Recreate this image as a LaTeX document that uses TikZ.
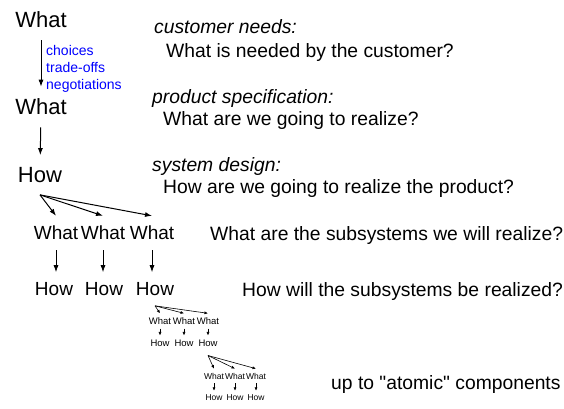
\documentclass[tikz,border=0pt]{standalone}
\usepackage{fontspec}
\setmainfont{Liberation Sans}[Ligatures=TeXOff]
\usetikzlibrary{arrows.meta}

\begin{document}
\begin{tikzpicture}[x=1pt,y=-1pt,>={Latex[length=7pt,width=5pt]},
  big/.style={font=\fontsize{22}{26}\selectfont, inner ysep=12pt, inner xsep=0pt},
  mid/.style={font=\fontsize{19}{23}\selectfont, inner ysep=10pt, inner xsep=0pt},
  small/.style={font=\fontsize{9.5}{11}\selectfont, inner ysep=4pt, inner xsep=0pt},
  smaller/.style={font=\fontsize{8.5}{10}\selectfont, inner ysep=4pt, inner xsep=0pt},
  note/.style={font=\fontsize{19.3}{23}\selectfont, anchor=base west, inner sep=0pt},
  task/.style={note, font=\fontsize{19.3}{23}\selectfont\itshape},
  remark/.style={font=\fontsize{14}{17}\selectfont, text=blue, anchor=base west, inner sep=0pt},
  tinyarrow/.style={-{Latex[length=3.5pt,width=3pt]}, line width=0.6pt}]
\useasboundingbox (0,0) rectangle (564,408);

% top of the chain
\node[big](W0) at (41,20) {What};
\node[big](W1) at (41,107) {What};
\node[big](H1) at (40,175) {How};

\node[remark](choices) at (46,55) {choices};
\node[remark](tradeoffs) at (46,72) {trade-offs};
\node[remark](negot) at (46,89) {negotiations};

\draw[->, line width=1pt] (W0) -- (W1);
\draw[->, line width=1pt] (W1) -- (H1);

% subsystems
\node[mid](M1) at (56,233) {What};
\node[mid](M2) at (103,233) {What};
\node[mid](M3) at (152,233) {What};
\node[mid](N1) at (54,289) {How};
\node[mid](N2) at (104,289) {How};
\node[mid](N3) at (155,289) {How};

\draw[->, line width=1pt] (H1.south) -- (M1.north);
\draw[->, line width=1pt] (H1.south) -- (M2.north);
\draw[->, line width=1pt] (H1.south) -- (M3.north);
\draw[->, line width=0.8pt] (M1) -- (M1 |- N1.north);
\draw[->, line width=0.8pt] (M2) -- (M2 |- N2.north);
\draw[->, line width=0.8pt] (M3) -- (M3 |- N3.north);

% first small level
\node[small](a1) at (160,321) {What};
\node[small](a2) at (184,321) {What};
\node[small](a3) at (208,321) {What};
\node[small](b1) at (160,343) {How};
\node[small](b2) at (184,343) {How};
\node[small](b3) at (208,343) {How};

\draw[tinyarrow] (N3.south) -- (a1.north);
\draw[tinyarrow] (N3.south) -- (a2.north);
\draw[tinyarrow] (N3.south) -- (a3.north);
\draw[tinyarrow] (a1) -- (b1);
\draw[tinyarrow] (a2) -- (b2);
\draw[tinyarrow] (a3) -- (b3);

% second small level
\node[smaller](c1) at (214,376) {What};
\node[smaller](c2) at (235,376) {What};
\node[smaller](c3) at (256,376) {What};
\node[smaller](d1) at (214,398) {How};
\node[smaller](d2) at (235,398) {How};
\node[smaller](d3) at (256,398) {How};

\draw[tinyarrow] ([yshift=-5pt]b3.south) -- (c1.north);
\draw[tinyarrow] ([yshift=-5pt]b3.south) -- (c2.north);
\draw[tinyarrow] ([yshift=-5pt]b3.south) -- (c3.north);
\draw[tinyarrow] (c1) -- (d1);
\draw[tinyarrow] (c2) -- (d2);
\draw[tinyarrow] (c3) -- (d3);

% explanations
\node[task](needs) at (154,33) {customer needs:};
\node[note](needsq) at (166,57) {What is needed by the customer?};
\node[task](spec) at (152,103) {product specification:};
\node[note](specq) at (163,125) {What are we going to realize?};
\node[task](design) at (152,171) {system design:};
\node[note](designq) at (163,193) {How are we going to realize the product?};
\node[note](subq) at (210,240) {What are the subsystems we will realize?};
\node[note](realq) at (242,296) {How will the subsystems be realized?};
\node[note](atomic) at (331,389) {up to "atomic" components};
\end{tikzpicture}
\end{document}
